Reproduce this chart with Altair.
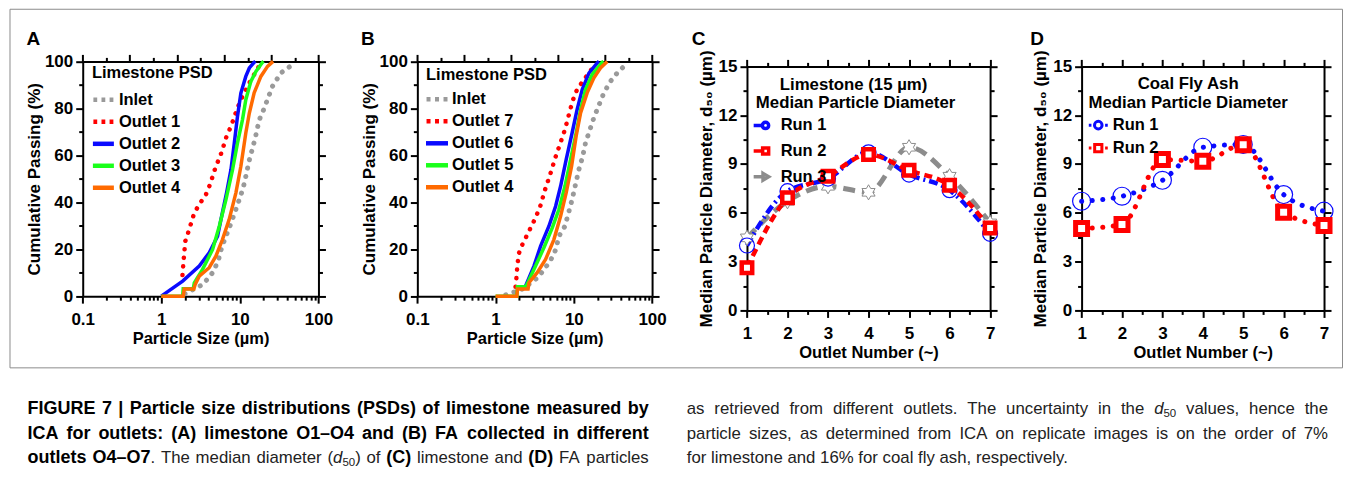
import re
import altair as alt
import pandas as pd

FONT = "Liberation Sans"
W, H = 1334, 359          # size of the framed figure box (plot area of the layered chart)
OX, OY = 10, 9            # page position of the figure box

# ------------------------------------------------------------------ data
A_NAMES = ["Inlet", "Outlet 1", "Outlet 2", "Outlet 3", "Outlet 4"]
A_INLET_X = [2.0, 3.4, 4.5, 5.3, 5.9, 6.65, 7.7, 8.7, 9.8, 11.0, 11.9, 13.2, 14.5, 15.7, 17.6, 20.4, 26.0, 33.3, 46.7]
A_INLET_Y = [1, 5, 10, 15, 21, 25.5, 31, 36, 41, 46, 51, 58, 63, 67.4, 75, 80, 89.4, 95.1, 98.6]
A_OUT1_X = [1.86, 1.92, 2.02, 2.23, 2.63, 3.13, 3.7, 4.16, 4.95, 5.62, 6.15, 6.77, 7.7, 9.33, 10.8, 13.2, 16.0, 18.5]
A_OUT1_Y = [9, 14.9, 23.4, 27.7, 35.5, 39.7, 43.3, 47.5, 55.3, 59.6, 63.6, 68.1, 72.3, 80.2, 85.1, 90.8, 95.7, 99.3]
A_OUT2_X = [1.0, 1.87, 3.04, 4.07, 5.2, 5.74, 6.77, 7.7, 8.48, 9.33, 10.3, 11.9, 13.2, 15.2, 15.8]
A_OUT2_Y = [0, 6.4, 12.8, 18.5, 25.5, 32.6, 44, 53.9, 65, 76.6, 86.5, 93.6, 97.2, 99.6, 100]
A_OUT3_X = [1.0, 1.87, 1.9, 2.55, 2.63, 3.35, 4.5, 5.47, 6.65, 8.07, 9.33, 10.8, 11.9, 13.8, 16.0, 19.4, 20.0]
A_OUT3_Y = [0, 0, 3.1, 3.1, 5.7, 11.4, 19.9, 29.8, 41.1, 53.9, 65.3, 75.2, 83.7, 91.5, 95.7, 99.6, 100]
A_OUT4_X = [1.0, 1.9, 1.96, 2.6, 2.7, 3.04, 4.07, 4.95, 6.0, 7.3, 8.9, 10.3, 11.9, 13.2, 15.2, 18.5, 22.5, 26.5]
A_OUT4_Y = [0, 0, 3, 3, 5, 8.5, 12.1, 17, 24.1, 32.6, 44, 55.3, 69.5, 78, 86.6, 93.6, 97.9, 100]

B_NAMES = ["Inlet", "Outlet 7", "Outlet 6", "Outlet 5", "Outlet 4"]
B_INLET_X = [1.35, 2.2, 3.5, 5.0, 5.9, 6.44, 7.7, 9.5, 11.6, 13.0, 14.1, 18.0, 24.2, 29.4, 35.7, 45.7]
B_INLET_Y = [0.5, 3, 8, 15, 20, 25.5, 29.8, 41.1, 53.9, 59.6, 65.3, 75.9, 86.6, 91.5, 95, 98.6]
B_OUT7_X = [1.8, 1.86, 1.9, 2.0, 2.2, 2.55, 3.2, 3.7, 4.3, 5.0, 5.8, 6.7, 7.7, 8.6, 9.6, 11.0, 13.0, 15.5, 19.0]
B_OUT7_Y = [4, 9, 13.5, 18.5, 22, 26.3, 33, 38, 45.5, 52, 59, 65, 71, 77, 83, 88, 91.5, 95, 99]
B_OUT6_X = [2.42, 3.09, 3.76, 4.8, 5.85, 6.77, 7.98, 9.5, 11.0, 12.8, 15.6, 19.9, 21.0]
B_OUT6_Y = [4.3, 12.8, 21.3, 29.8, 38.3, 46.8, 58.2, 69.5, 79.4, 88, 95, 99.3, 100]
B_OUT5_X = [1.0, 1.87, 1.9, 2.42, 2.6, 3.24, 4.14, 5.3, 6.44, 7.7, 9.08, 10.7, 12.2, 14.1, 17.1, 23.0, 24.0]
B_OUT5_Y = [0, 0, 4, 4, 6, 12.8, 20.6, 29.1, 36.9, 46.8, 58.2, 69.5, 79.4, 88, 94.3, 99.6, 100]
B_OUT4_X = [1.0, 1.87, 1.9, 2.6, 2.67, 3.4, 4.35, 5.56, 6.77, 7.98, 9.35, 10.7, 12.2, 14.8, 18.0, 21.9, 26.7]
B_OUT4_Y = [0, 0, 3, 3, 5.7, 10, 15.6, 24.1, 34, 44, 55.3, 68.1, 78, 86.6, 92.9, 97.2, 100]

OUTLETS = [1, 2, 3, 4, 5, 6, 7]
C_NAMES = ["Run 1", "Run 2", "Run 3"]
C_RUN1 = [3.99, 7.33, 8.1, 9.72, 8.35, 7.39, 4.71]
C_RUN2 = [2.62, 6.92, 8.25, 9.58, 8.61, 7.69, 5.07]
C_RUN3 = [4.46, 6.71, 7.63, 7.26, 10.03, 8.25, 5.38]
D_NAMES = ["Run 1", "Run 2"]
D_RUN1 = [6.71, 7.02, 8.0, 10.03, 10.2, 7.12, 6.1]
D_RUN2 = [5.03, 5.28, 9.27, 9.17, 10.19, 6.04, 5.22]

# tick values
LOG_MAJOR = [0.1, 1, 10, 100]
LOG_MINOR = [m * 10.0 ** e for e in (-1, 0, 1) for m in range(2, 10)]
TOP_MAJOR = [10 ** (-1 + 0.6 * k) for k in range(6)]
TOP_MINOR = [10 ** (-0.7 + 0.6 * k) for k in range(5)]
PCT_MAJOR = [0, 20, 40, 60, 80, 100]
PCT_MINOR = [10, 30, 50, 70, 90]
OUT_MAJOR = [1, 2, 3, 4, 5, 6, 7]
OUT_MINOR = [1.5, 2.5, 3.5, 4.5, 5.5, 6.5]
D50_MAJOR = [0, 3, 6, 9, 12, 15]
D50_MINOR = [1.5, 4.5, 7.5, 10.5, 13.5]

# texts
PANEL_LETTERS = ["A", "B", "C", "D"]
X_TITLE_PSD = "Particle Size (µm)"
Y_TITLE_PSD = "Cumulative Passing (%)"
X_TITLE_D50 = "Outlet Number (~)"
Y_TITLE_D50 = "Median Particle Diameter, d₅₀ (µm)"
LEG_TITLE_A = "Limestone PSD"
LEG_TITLE_C = ["Limestone (15 µm)", "Median Particle Diameter"]
LEG_TITLE_D = ["Coal Fly Ash", "Median Particle Diameter"]
CAPTION_LEFT = [
    [("FIGURE 7 | Particle size distributions (PSDs) of limestone measured by", "b")],
    [("ICA for outlets: (A) limestone O1–O4 and (B) FA collected in different", "b")],
    [("outlets O4–O7", "b"), (". The median diameter (", "r"), ("d", "i"), ("50", "s"), (") of ", "r"),
     ("(C)", "b"), (" limestone and ", "r"), ("(D)", "b"), (" FA particles", "r")],
]
CAPTION_RIGHT = [
    [("as retrieved from different outlets. The uncertainty in the ", "r"), ("d", "i"), ("50", "s"),
     (" values, hence the", "r")],
    [("particle sizes, as determined from ICA on replicate images is on the order of 7%", "r")],
    [("for limestone and 16% for coal fly ash, respectively.", "r")],
]

# colours
GRAY, RED, BLUE, GREEN, ORANGE = "#9a9a9a", "#ff0000", "#0a0aff", "#1aff1a", "#ff6a00"

# ------------------------------------------------------------------ geometry (page px)
GEO = {
    "A": dict(xt="log", xd=[0.1, 100], x0=83.3, x1=319.3, yd=[0, 100], y0=296.7, y1=61.7, ytp=1),
    "B": dict(xt="log", xd=[0.1, 100], x0=418.3, x1=653.3, yd=[0, 100], y0=296.7, y1=61.7, ytp=1),
    "C": dict(xt="linear", xd=[1, 7], x0=748.3, x1=991.7, yd=[0, 15], y0=311.0, y1=66.7, ytp=3),
    "D": dict(xt="linear", xd=[1, 7], x0=1083.3, x1=1326.0, yd=[0, 15], y0=311.0, y1=66.7, ytp=3),
}


def sx(p):
    g = GEO[p]
    return alt.Scale(type=g["xt"], domain=g["xd"], range=[g["x0"] - OX, g["x1"] - OX], nice=False)


def sy(p):
    g = GEO[p]
    return alt.Scale(type="linear", domain=g["yd"], range=[g["y0"] - OY, g["y1"] - OY], nice=False, zero=False)


def offs(p):
    g = GEO[p]
    return dict(bottom=(g["y0"] - OY) - H, top=-(g["y1"] - OY), left=-(g["x0"] - OX), right=(g["x1"] - OX) - W)


LABEL_FS = 17
TITLE_FS = 16.5


def ax(orient, values, size, offset, labels=False, title=None, domain=False, fmt=None, lpad=3, tpad=4, tfs=TITLE_FS):
    kw = dict(orient=orient, values=values, tickSize=size, tickWidth=2, tickColor="black", offset=offset,
              grid=False, domain=domain, domainWidth=2, domainColor="black", labels=labels,
              labelFlush=False, labelOverlap=False, labelBound=False, title=title)
    if labels:
        kw.update(labelFont=FONT, labelFontSize=LABEL_FS, labelFontWeight="bold", labelColor="black",
                  labelPadding=lpad)
        if fmt:
            kw["format"] = fmt
    if title:
        kw.update(titleFont=FONT, titleFontSize=tfs, titleFontWeight="bold", titleColor="black",
                  titlePadding=tpad)
    return alt.Axis(**kw)


def axis_layers(p, xmaj, xmin, ymaj, ymin, tmaj, tmin, rmaj, rmin, xtitle, ytitle, xfmt=None):
    o = offs(p)
    g = GEO[p]
    df = pd.DataFrame({"x": [g["xd"][0]], "y": [g["yd"][0]]})
    pairs = [
        (ax("bottom", xmaj, 7, o["bottom"], labels=True, title=xtitle, domain=True, fmt=xfmt, lpad=8, tpad=3),
         ax("left", ymaj, 7, o["left"], labels=True, title=ytitle, domain=True, lpad=3, tpad=g["ytp"], tfs=17)),
        (ax("bottom", xmin, 4, o["bottom"]), ax("left", ymin, 4, o["left"])),
        (ax("top", tmaj, 7, o["top"], domain=True), ax("right", rmaj, 7, o["right"], domain=True)),
        (ax("top", tmin, 4, o["top"]), ax("right", rmin, 4, o["right"])),
    ]
    return [alt.Chart(df).mark_point(opacity=0).encode(
        x=alt.X("x:Q", scale=sx(p), axis=a), y=alt.Y("y:Q", scale=sy(p), axis=b)) for a, b in pairs]


def line(p, xs, ys, color, width, dash=None, cap="butt", interp="linear"):
    df = pd.DataFrame({"x": xs, "y": ys, "i": list(range(len(xs)))})
    kw = dict(color=color, strokeWidth=width, strokeCap=cap, interpolate=interp)
    if dash:
        kw["strokeDash"] = dash
    return alt.Chart(df).mark_line(**kw).encode(
        x=alt.X("x:Q", scale=sx(p), axis=None), y=alt.Y("y:Q", scale=sy(p), axis=None),
        order=alt.Order("i:Q"))


def markers(p, xs, ys, shape, size, stroke, sw, fill=None):
    df = pd.DataFrame({"x": xs, "y": ys})
    if fill:
        mk = alt.Chart(df).mark_point(shape=shape, size=size, filled=True, fill=fill, stroke=stroke,
                                      strokeWidth=sw, opacity=1)
    else:
        mk = alt.Chart(df).mark_point(shape=shape, size=size, filled=False, color=stroke, stroke=stroke,
                                      strokeWidth=sw, opacity=1)
    return mk.encode(x=alt.X("x:Q", scale=sx(p), axis=None), y=alt.Y("y:Q", scale=sy(p), axis=None))


def legend_layer(p, names, colors, paths, lx, ly, size, sw, loff, rpad):
    g = GEO[p]
    df = pd.DataFrame({"s": names, "x": [g["xd"][0]] * len(names), "y": [g["yd"][0]] * len(names)})
    leg = alt.Legend(title=None, orient="none", legendX=lx - OX, legendY=ly - OY, symbolSize=size,
                     symbolStrokeWidth=sw, symbolOpacity=1, labelFont=FONT, labelFontSize=16.5,
                     labelFontWeight="bold", labelColor="black", labelOffset=loff, rowPadding=rpad,
                     padding=0)
    return alt.Chart(df).mark_point(opacity=0, filled=False).encode(
        x=alt.X("x:Q", scale=sx(p), axis=None), y=alt.Y("y:Q", scale=sy(p), axis=None),
        color=alt.Color("s:N", scale=alt.Scale(domain=names, range=colors), legend=leg),
        shape=alt.Shape("s:N", scale=alt.Scale(domain=names, range=paths), legend=leg))


def text_layer(rows, size, weight="bold", style="normal", align="left", color="black"):
    df = pd.DataFrame(rows, columns=["t", "x", "y"])
    df["x"] = df["x"] - OX
    df["y"] = df["y"] - OY
    return alt.Chart(df).mark_text(font=FONT, fontSize=size, fontWeight=weight, fontStyle=style, align=align,
                                   baseline="middle", color=color).encode(
        x=alt.X("x:Q", scale=None, axis=None), y=alt.Y("y:Q", scale=None, axis=None), text="t:N")


# legend symbol paths
DOTS = "M-1,0L-0.62,0M-0.19,0L0.19,0M0.62,0L1,0"
SOLID = "M-1.05,0L1.05,0"
HEX = ("M0,-1L0.289,-0.5L0.866,-0.5L0.577,0L0.866,0.5L0.289,0.5L0,1L-0.289,0.5L-0.866,0.5"
       "L-0.577,0L-0.866,-0.5L-0.289,-0.5Z")
C_SYM = ["M-1,0L0.15,0M1,0A0.42,0.42 0 1,1 0.16,0A0.42,0.42 0 1,1 1,0",
         "M-1,0L0.2,0M0.2,-0.4L1,-0.4L1,0.4L0.2,0.4Z",
         "M-1,0L0.25,0M0.25,-0.45L1,0L0.25,0.45Z"]
D_SYM = ["M-1,0L-0.72,0M0.4,0A0.4,0.4 0 1,1 -0.4,0A0.4,0.4 0 1,1 0.4,0M0.72,0L1,0",
         "M-1,0L-0.72,0M-0.38,-0.38L0.38,-0.38L0.38,0.38L-0.38,0.38ZM0.72,0L1,0"]

# ------------------------------------------------------------------ caption layout (Arial metrics)
_R = {}
for chars, w in [(" !,./:;If[]\\t", 278), ("ijl", 222), ("()-r`", 333), ("*", 389),
                 ("0123456789$#abdeghnopqu?_L–µ", 556), ("ckvsxyzJ", 500), ("+<=>~", 584), ("%", 889),
                 ("&ABEKPSVXY", 667), ("CDHNRUw", 722), ("FTZ", 611), ("GOQ", 778), ("Mm", 833),
                 ("W", 944), ("|", 260)]:
    for ch in chars:
        _R[ch] = w
_B = {}
for chars, w in [(" ,./Iijl", 278), ("!():;-ft", 333), ("r*", 389), ("z", 500),
                 ("0123456789acekvsxyJ–", 556), ("?bdghnopquFLTZµ", 611), ("EPSVXY", 667),
                 ("ABCDHKNRU&", 722), ("wGOQ", 778), ("M", 833), ("m%", 889), ("W", 944), ("|", 280)]:
    for ch in chars:
        _B[ch] = w

CAP_FS = {"b": 18.0, "r": 16.8, "i": 16.8, "s": 11.5}


def tw(s, kind):
    tab = _B if kind == "b" else _R
    return sum(tab.get(ch, 556) for ch in s) / 1000.0 * CAP_FS[kind]


def caption_rows(lines, x0, ys, targets):
    groups = {"b": [], "r": [], "i": [], "s": []}
    for segs, y, target in zip(lines, ys, targets):
        tokens = []
        for text, kind in segs:
            for tok in re.split(r"( )", text):
                if tok:
                    tokens.append((tok, kind))
        natural = sum(tw(t, k) for t, k in tokens)
        nsp = sum(1 for t, k in tokens if t == " ")
        extra = (target - natural) / nsp if (target and nsp) else 0.0
        x = x0
        for t, k in tokens:
            if t == " ":
                x += tw(t, k) + extra
            else:
                groups[k].append((t, x, y + (4.5 if k == "s" else 0)))
                x += tw(t, k)
    return groups


# ------------------------------------------------------------------ build layers
layers = []
layers += axis_layers("A", LOG_MAJOR, LOG_MINOR, PCT_MAJOR, PCT_MINOR, TOP_MAJOR, TOP_MINOR, PCT_MAJOR,
                      PCT_MINOR, X_TITLE_PSD, Y_TITLE_PSD, "~g")
layers += axis_layers("B", LOG_MAJOR, LOG_MINOR, PCT_MAJOR, PCT_MINOR, TOP_MAJOR, TOP_MINOR, PCT_MAJOR,
                      PCT_MINOR, X_TITLE_PSD, Y_TITLE_PSD, "~g")
layers += axis_layers("C", OUT_MAJOR, OUT_MINOR, D50_MAJOR, D50_MINOR, OUT_MAJOR, OUT_MINOR, D50_MAJOR,
                      D50_MINOR, X_TITLE_D50, Y_TITLE_D50)
layers += axis_layers("D", OUT_MAJOR, OUT_MINOR, D50_MAJOR, D50_MINOR, OUT_MAJOR, OUT_MINOR, D50_MAJOR,
                      D50_MINOR, X_TITLE_D50, Y_TITLE_D50)

DOTTED = dict(dash=[0.1, 8.5], cap="round")
layers += [
    line("A", A_INLET_X, A_INLET_Y, GRAY, 5, **DOTTED),
    line("A", A_OUT1_X, A_OUT1_Y, RED, 4.5, **DOTTED),
    line("A", A_OUT2_X, A_OUT2_Y, BLUE, 3.5),
    line("A", A_OUT3_X, A_OUT3_Y, GREEN, 3.5),
    line("A", A_OUT4_X, A_OUT4_Y, ORANGE, 3.5),
    line("B", B_INLET_X, B_INLET_Y, GRAY, 5, **DOTTED),
    line("B", B_OUT7_X, B_OUT7_Y, RED, 4.5, **DOTTED),
    line("B", B_OUT6_X, B_OUT6_Y, BLUE, 3.5),
    line("B", B_OUT5_X, B_OUT5_Y, GREEN, 3.5),
    line("B", B_OUT4_X, B_OUT4_Y, ORANGE, 3.5),
    line("C", OUTLETS, C_RUN3, "#8c8c8c", 5, dash=[12, 7], interp="monotone"),
    line("C", OUTLETS, C_RUN1, BLUE, 4.5, dash=[9, 4, 2, 4], interp="monotone"),
    line("C", OUTLETS, C_RUN2, RED, 4.5, dash=[8, 5], interp="monotone"),
    markers("C", OUTLETS, C_RUN3, HEX, 230, "#8c8c8c", 1, fill="white"),
    markers("C", OUTLETS, C_RUN1, "circle", 225, BLUE, 1.2),
    markers("C", OUTLETS, C_RUN2, "square", 110, RED, 4.5, fill="white"),
    line("D", OUTLETS, D_RUN1, BLUE, 5, dash=[0.1, 10.5], cap="round", interp="monotone"),
    line("D", OUTLETS, D_RUN2, RED, 5, dash=[0.1, 10.5], cap="round", interp="monotone"),
    markers("D", OUTLETS, D_RUN1, "circle", 324, BLUE, 1.2),
    markers("D", OUTLETS, D_RUN2, "square", 144, RED, 5, fill="white"),
]

layers += [
    legend_layer("A", A_NAMES, [GRAY, RED, BLUE, GREEN, ORANGE], [DOTS, DOTS, SOLID, SOLID, SOLID],
                 91.5, 87.7, 400, 4.5, 3, 0),
    legend_layer("B", B_NAMES, [GRAY, RED, BLUE, GREEN, ORANGE], [DOTS, DOTS, SOLID, SOLID, SOLID],
                 425, 86.7, 441, 4.5, 2, 0),
    legend_layer("C", C_NAMES, [BLUE, RED, "#8c8c8c"], C_SYM, 753, 116.3, 225, 3.5, 10, 4.7),
    legend_layer("D", D_NAMES, [BLUE, RED], D_SYM, 1089, 114.5, 361, 3, 3.5, 2),
]

# panel letters and legend titles
layers.append(text_layer([(PANEL_LETTERS[0], 27, 39), (PANEL_LETTERS[1], 362, 39),
                          (PANEL_LETTERS[2], 693, 39), (PANEL_LETTERS[3], 1032, 39)], 19))
layers.append(text_layer([(LEG_TITLE_A, 92.5, 73.5), (LEG_TITLE_A, 427, 75)], 16.5))
layers.append(text_layer([(LEG_TITLE_C[0], 855, 85), (LEG_TITLE_C[1], 857, 103.5),
                          (LEG_TITLE_D[0], 1190, 84.5), (LEG_TITLE_D[1], 1190, 103.5)], 16.8,
                         align="center"))

# caption (justified like the journal layout; last paragraph line left ragged)
cap_groups = {"b": [], "r": [], "i": [], "s": []}
for g in (caption_rows(CAPTION_LEFT, 28, [410, 435, 459], [622, 622, 622]),
          caption_rows(CAPTION_RIGHT, 688, [410, 435, 459], [642, 642, None])):
    for k, v in g.items():
        cap_groups[k] += v
layers.append(text_layer(cap_groups["b"], CAP_FS["b"]))
layers.append(text_layer(cap_groups["r"], CAP_FS["r"], weight="normal", color="#222222"))
layers.append(text_layer(cap_groups["i"], CAP_FS["i"], weight="normal", style="italic", color="#222222"))
layers.append(text_layer(cap_groups["s"], CAP_FS["s"], weight="normal", color="#222222"))

chart = (
    alt.layer(*layers)
    .resolve_scale(x="independent", y="independent", color="independent", shape="independent")
    .resolve_axis(x="independent", y="independent")
    .resolve_legend(color="independent", shape="independent")
    .properties(width=W, height=H, background="white",
                padding={"left": 1.5, "top": 0.5, "right": 2, "bottom": 4})
    .configure_view(stroke="#8c8c8c", strokeWidth=1)
)

chart.save("out.html", embed_options={"renderer": "svg", "actions": False})
